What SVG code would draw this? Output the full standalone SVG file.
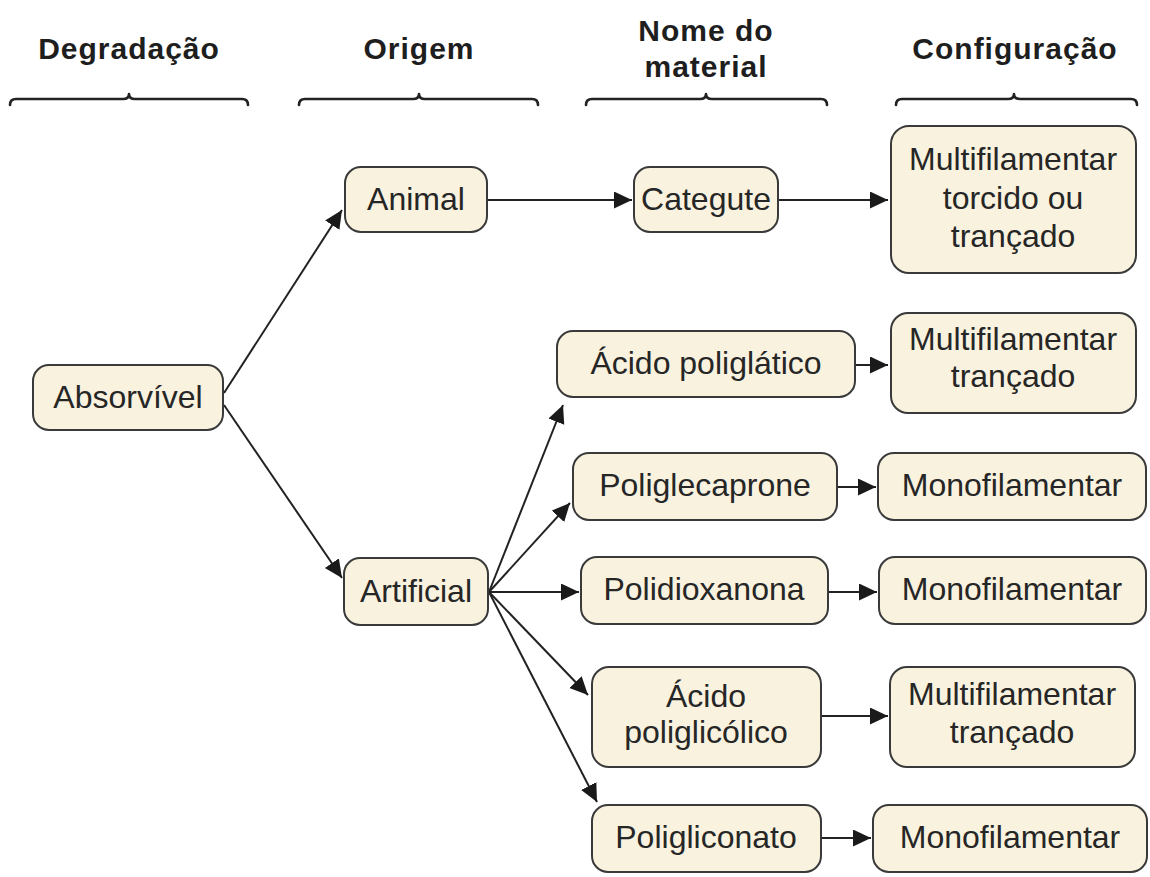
<svg xmlns="http://www.w3.org/2000/svg" width="1150" height="877" viewBox="0 0 1150 877">
  <style>
    .head { font-family: "Liberation Sans", Arial, sans-serif; font-weight: bold; font-size: 30px; letter-spacing: 1px; fill: #1e1e1e; text-anchor: middle; }
    .brace { fill: none; stroke: #222; stroke-width: 2.6; stroke-linecap: round; stroke-linejoin: round; }
    .box { fill: #f9f2df; stroke: #3a3a3a; stroke-width: 2; }
    .lbl { font-family: "Liberation Sans", Arial, sans-serif; font-size: 32px; fill: #262626; text-anchor: middle; }
    .edge { fill: none; stroke: #222; stroke-width: 2; }
  </style>
  <defs>
    <marker id="arrow" markerUnits="userSpaceOnUse" markerWidth="19" markerHeight="18" refX="18" refY="8.5" orient="auto">
      <path d="M0,0 L18,8.5 L0,17 Z" fill="#1a1a1a"/>
    </marker>
  </defs>

  <rect width="1150" height="877" fill="#ffffff"/>

  <!-- column headings with braces -->
  <g id="headings">
    <text class="head" x="129" y="59">Degradação</text>
    <text class="head" x="419" y="59">Origem</text>
    <text class="head" x="706" y="41">Nome do</text>
    <text class="head" x="706" y="77">material</text>
    <text class="head" x="1015" y="59">Configuração</text>
    <path class="brace" d="M10,105 Q10,99 16,99 L123,99 Q129,99 129,94 Q129,99 135,99 L242,99 Q248,99 248,105"/>
    <path class="brace" d="M299,105 Q299,99 305,99 L413,99 Q419,99 419,94 Q419,99 425,99 L532,99 Q538,99 538,105"/>
    <path class="brace" d="M586,105 Q586,99 592,99 L700,99 Q706,99 706,94 Q706,99 712,99 L821,99 Q827,99 827,105"/>
    <path class="brace" d="M896,105 Q896,99 902,99 L1008,99 Q1014,99 1014,94 Q1014,99 1020,99 L1131,99 Q1137,99 1137,105"/>
  </g>

  <!-- connectors -->
  <g id="connectors">
    <line class="edge" x1="224" y1="393" x2="342" y2="210" marker-end="url(#arrow)"/>
    <line class="edge" x1="224" y1="405" x2="342" y2="578" marker-end="url(#arrow)"/>
    <line class="edge" x1="487" y1="200" x2="632" y2="200" marker-end="url(#arrow)"/>
    <line class="edge" x1="778" y1="200" x2="888" y2="200" marker-end="url(#arrow)"/>
    <line class="edge" x1="489" y1="592" x2="563" y2="405" marker-end="url(#arrow)"/>
    <line class="edge" x1="489" y1="592" x2="570" y2="503" marker-end="url(#arrow)"/>
    <line class="edge" x1="489" y1="592" x2="579" y2="592" marker-end="url(#arrow)"/>
    <line class="edge" x1="489" y1="592" x2="588" y2="695" marker-end="url(#arrow)"/>
    <line class="edge" x1="489" y1="592" x2="597" y2="802" marker-end="url(#arrow)"/>
    <line class="edge" x1="855" y1="365" x2="888" y2="365" marker-end="url(#arrow)"/>
    <line class="edge" x1="837" y1="487" x2="876" y2="487" marker-end="url(#arrow)"/>
    <line class="edge" x1="828" y1="592" x2="877" y2="592" marker-end="url(#arrow)"/>
    <line class="edge" x1="821" y1="716" x2="888" y2="716" marker-end="url(#arrow)"/>
    <line class="edge" x1="821" y1="838" x2="871" y2="838" marker-end="url(#arrow)"/>
  </g>

  <!-- nodes -->
  <g id="absorvivel">
    <rect class="box" x="33" y="365" width="190" height="65" rx="16"/>
    <text class="lbl" x="128" y="408">Absorvível</text>
  </g>
  <g id="animal">
    <rect class="box" x="345" y="167" width="142" height="65" rx="16"/>
    <text class="lbl" x="416" y="210">Animal</text>
  </g>
  <g id="artificial">
    <rect class="box" x="344" y="558" width="144" height="67" rx="16"/>
    <text class="lbl" x="416" y="602">Artificial</text>
  </g>
  <g id="categute">
    <rect class="box" x="634" y="167" width="144" height="65" rx="16"/>
    <text class="lbl" x="706" y="210">Categute</text>
  </g>
  <g id="config-torcido">
    <rect class="box" x="891" y="126" width="245" height="147" rx="18"/>
    <text class="lbl" x="1013" y="170">Multifilamentar</text>
    <text class="lbl" x="1013" y="209">torcido ou</text>
    <text class="lbl" x="1013" y="247">trançado</text>
  </g>
  <g id="acido-poliglatico">
    <rect class="box" x="557" y="331" width="298" height="66" rx="16"/>
    <text class="lbl" x="706" y="374">Ácido poliglático</text>
  </g>
  <g id="config-trancado-1">
    <rect class="box" x="891" y="313" width="245" height="100" rx="17"/>
    <text class="lbl" x="1013" y="350">Multifilamentar</text>
    <text class="lbl" x="1013" y="387">trançado</text>
  </g>
  <g id="poliglecaprone">
    <rect class="box" x="573" y="453" width="264" height="67" rx="16"/>
    <text class="lbl" x="705" y="496">Poliglecaprone</text>
  </g>
  <g id="config-mono-1">
    <rect class="box" x="878" y="453" width="268" height="67" rx="16"/>
    <text class="lbl" x="1012" y="496">Monofilamentar</text>
  </g>
  <g id="polidioxanona">
    <rect class="box" x="581" y="557" width="247" height="67" rx="16"/>
    <text class="lbl" x="704" y="600">Polidioxanona</text>
  </g>
  <g id="config-mono-2">
    <rect class="box" x="879" y="557" width="267" height="67" rx="16"/>
    <text class="lbl" x="1012" y="600">Monofilamentar</text>
  </g>
  <g id="acido-poliglicolico">
    <rect class="box" x="592" y="667" width="229" height="100" rx="17"/>
    <text class="lbl" x="706" y="707">Ácido</text>
    <text class="lbl" x="706" y="743">poliglicólico</text>
  </g>
  <g id="config-trancado-2">
    <rect class="box" x="890" y="667" width="245" height="100" rx="17"/>
    <text class="lbl" x="1012" y="705">Multifilamentar</text>
    <text class="lbl" x="1012" y="743">trançado</text>
  </g>
  <g id="poligliconato">
    <rect class="box" x="592" y="805" width="229" height="67" rx="16"/>
    <text class="lbl" x="706" y="848">Poligliconato</text>
  </g>
  <g id="config-mono-3">
    <rect class="box" x="873" y="805" width="274" height="67" rx="16"/>
    <text class="lbl" x="1010" y="848">Monofilamentar</text>
  </g>
</svg>
